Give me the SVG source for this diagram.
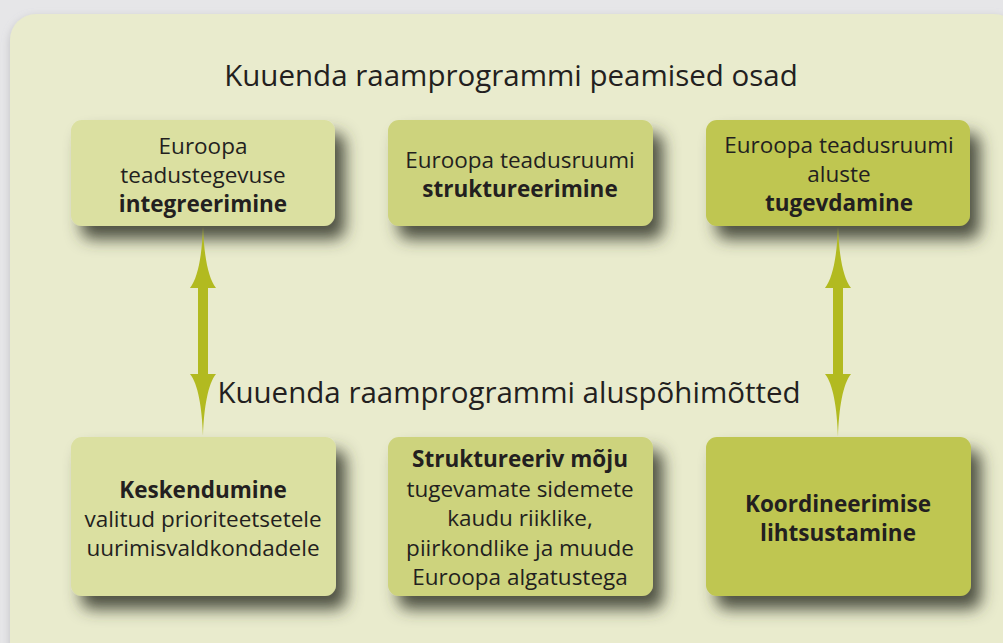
<svg xmlns="http://www.w3.org/2000/svg" width="1003" height="643" viewBox="0 0 1003 643">
  <defs>
    <filter id="sh" x="-20%" y="-20%" width="150%" height="170%">
      <feGaussianBlur in="SourceAlpha" stdDeviation="8"/>
      <feOffset dx="10" dy="13" result="b"/>
      <feFlood flood-color="#3c3f32" flood-opacity="0.9"/>
      <feComposite operator="in" in2="b"/>
      <feMerge><feMergeNode/><feMergeNode in="SourceGraphic"/></feMerge>
    </filter>
    <filter id="psh" x="-5%" y="-5%" width="110%" height="110%">
      <feGaussianBlur in="SourceAlpha" stdDeviation="4"/>
      <feOffset dx="0" dy="3" result="b"/>
      <feFlood flood-color="#9a9aa0" flood-opacity="0.5"/>
      <feComposite operator="in" in2="b"/>
      <feMerge><feMergeNode/><feMergeNode in="SourceGraphic"/></feMerge>
    </filter>
  </defs>
  <style>
    text { font-family: "Open Sans", "Noto Sans", "Liberation Sans", sans-serif; fill: #231f20; text-anchor: middle; }
    .h { font-size: 29.5px; }
    .t { font-size: 22.5px; }
    .b { font-weight: bold; }
    .c1 { fill: #dbe0a1; }
    .c2 { fill: #cdd37d; }
    .c3 { fill: #bfc651; }
    .arr { fill: #b2ba20; }
  </style>
  <rect x="0" y="0" width="1003" height="643" fill="#e6e6e8"/>
  <rect x="10" y="14" width="1010" height="660" rx="26" fill="#e9ebcd" filter="url(#psh)"/>

  <text class="h" x="511" y="86">Kuuenda raamprogrammi peamised osad</text>
  <text class="h" x="509" y="403">Kuuenda raamprogrammi aluspõhimõtted</text>

  <g id="n1">
    <rect class="c1" x="71" y="120" width="264" height="106" rx="11" filter="url(#sh)"/>
    <text class="t" x="203" y="154">Euroopa</text>
    <text class="t" x="203" y="183">teadustegevuse</text>
    <text class="t b" x="203" y="212">integreerimine</text>
  </g>
  <g id="n2">
    <rect class="c2" x="388" y="120" width="265" height="106" rx="11" filter="url(#sh)"/>
    <text class="t" x="520" y="168">Euroopa teadusruumi</text>
    <text class="t b" x="520" y="197">struktureerimine</text>
  </g>
  <g id="n3">
    <rect class="c3" x="706" y="120" width="264" height="106" rx="11" filter="url(#sh)"/>
    <text class="t" x="839" y="153">Euroopa teadusruumi</text>
    <text class="t" x="839" y="182">aluste</text>
    <text class="t b" x="839" y="211">tugevdamine</text>
  </g>
  <g id="n4">
    <rect class="c1" x="71" y="437" width="265" height="159" rx="11" filter="url(#sh)"/>
    <text class="t b" x="203" y="498">Keskendumine</text>
    <text class="t" x="203" y="527">valitud prioriteetsetele</text>
    <text class="t" x="203" y="556">uurimisvaldkondadele</text>
  </g>
  <g id="n5">
    <rect class="c2" x="388" y="437" width="265" height="159" rx="11" filter="url(#sh)"/>
    <text class="t b" x="520" y="467">Struktureeriv mõju</text>
    <text class="t" x="520" y="497">tugevamate sidemete</text>
    <text class="t" x="520" y="526">kaudu riiklike,</text>
    <text class="t" x="520" y="556">piirkondlike ja muude</text>
    <text class="t" x="520" y="585">Euroopa algatustega</text>
  </g>
  <g id="n6">
    <rect class="c3" x="706" y="437" width="265" height="159" rx="11" filter="url(#sh)"/>
    <text class="t b" x="838" y="512">Koordineerimise</text>
    <text class="t b" x="838" y="541">lihtsustamine</text>
  </g>

  <g id="connectors">
    <path class="arr" d="M203,227 C204,255 208,278 216,288 L208,288 L208,374 L216,374 C208,384 204,407 203,436 C202,407 198,384 190,374 L198,374 L198,288 L190,288 C198,278 202,255 203,227 Z"/>
    <path class="arr" d="M838,227 C839,255 843,278 851,288 L843,288 L843,374 L851,374 C843,384 839,407 838,437 C837,407 833,384 825,374 L833,374 L833,288 L825,288 C833,278 837,255 838,227 Z"/>
  </g>
</svg>
